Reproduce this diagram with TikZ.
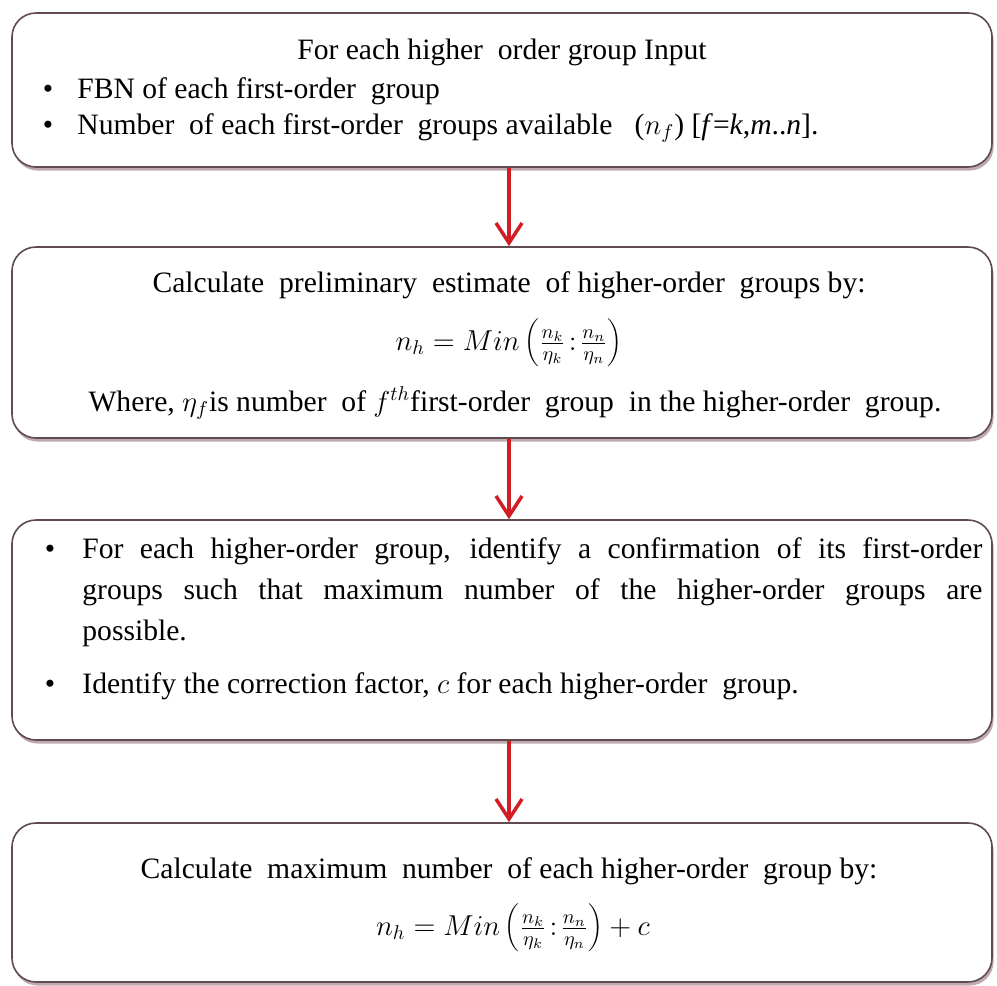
\documentclass[tikz,border=0pt]{standalone}
\usepackage{fontspec}
\setmainfont{Liberation Serif}
\usetikzlibrary{arrows.meta,shadows}
\definecolor{boxline}{RGB}{95,75,80}
\definecolor{shadowc}{RGB}{165,135,140}
\definecolor{arrred}{RGB}{208,30,36}
\begin{document}
\begin{tikzpicture}[x=0.5pt,y=-0.5pt,
  box/.style={draw=boxline, line width=0.8pt, rounded corners=12pt, fill=white,
    drop shadow={shadow xshift=0.8pt, shadow yshift=-1.8pt, fill=shadowc, opacity=0.7},
    minimum width=490pt, inner sep=0pt},
  txt/.style={font=\fontsize{14.8}{17}\selectfont, inner sep=0pt, anchor=base},
  bul/.style={txt, anchor=base west},
  frm/.style={font=\fontsize{14.8}{17}\selectfont, inner sep=0pt, anchor=center},
  arr/.style={draw=arrred, line width=1.75pt, -{Straight Barb[length=10pt,width=13pt]}}]
\useasboundingbox (0,0) rectangle (997,986);
\fill[white] (0,0) rectangle (997,986);

% boxes
\node[box, minimum height=77pt]   (b1) at (502,90)    {};
\node[box, minimum height=95.5pt] (b2) at (502,342.5) {};
\node[box, minimum height=110pt]  (b3) at (502,630)   {};
\node[box, minimum height=79.5pt] (b4) at (502,902.5) {};

% box 1
\node[txt] (t1) at (502,59) {For each higher\ \ order group Input};
\node[txt] (d1a) at (48,98) {\textbullet};
\node[bul] (l1a) at (77,98) {FBN of each first-order\ \ group};
\node[txt] (d1b) at (48,134) {\textbullet};
\node[bul] (l1b) at (77,134) {Number\ \ of each first-order\ \ groups available\ \ \ ($n_f$) [\textit{f}=\textit{k},\textit{m}..\textit{n}].};

% box 2
\node[txt] (t2) at (509,292) {Calculate\ \ preliminary\ \ estimate\ \ of higher-order\ \ groups by:};
\node[frm] (f2) at (509,343) {$n_h = Min\left(\frac{n_k}{\eta_k}\!:\!\frac{n_n}{\eta_n}\right)$};
\node[txt] (w2) at (515,411) {Where, $\eta_f$is number\ \ of $f^{th}$first-order\ \ group\ \ in the higher-order\ \ group.};

% box 3
\node[txt] (d3a) at (50,558) {\textbullet};
\node[bul] (p3a) at (82,558) {\makebox[450pt][s]{For each higher-order group, identify a confirmation of its first-order}};
\node[bul] (p3b) at (82,599) {\makebox[450pt][s]{groups such that maximum number of the higher-order groups are}};
\node[bul] (p3c) at (82,640) {possible.};
\node[txt] (d3b) at (50,693) {\textbullet};
\node[bul] (p3d) at (82,693) {Identify the correction factor, $c$ for each higher-order\ \ group.};

% box 4
\node[txt] (t4) at (509,878) {Calculate\ \ maximum\ \ number\ \ of each higher-order\ \ group by:};
\node[frm] (f4) at (513,928) {$n_h = Min\left(\frac{n_k}{\eta_k}\!:\!\frac{n_n}{\eta_n}\right) + c$};

% arrows
\coordinate (ax) at (509,0);
\draw[arr] (b1.south -| ax) -- (b2.north -| ax);
\draw[arr] (b2.south -| ax) -- (b3.north -| ax);
\draw[arr] (b3.south -| ax) -- (b4.north -| ax);
\end{tikzpicture}
\end{document}
